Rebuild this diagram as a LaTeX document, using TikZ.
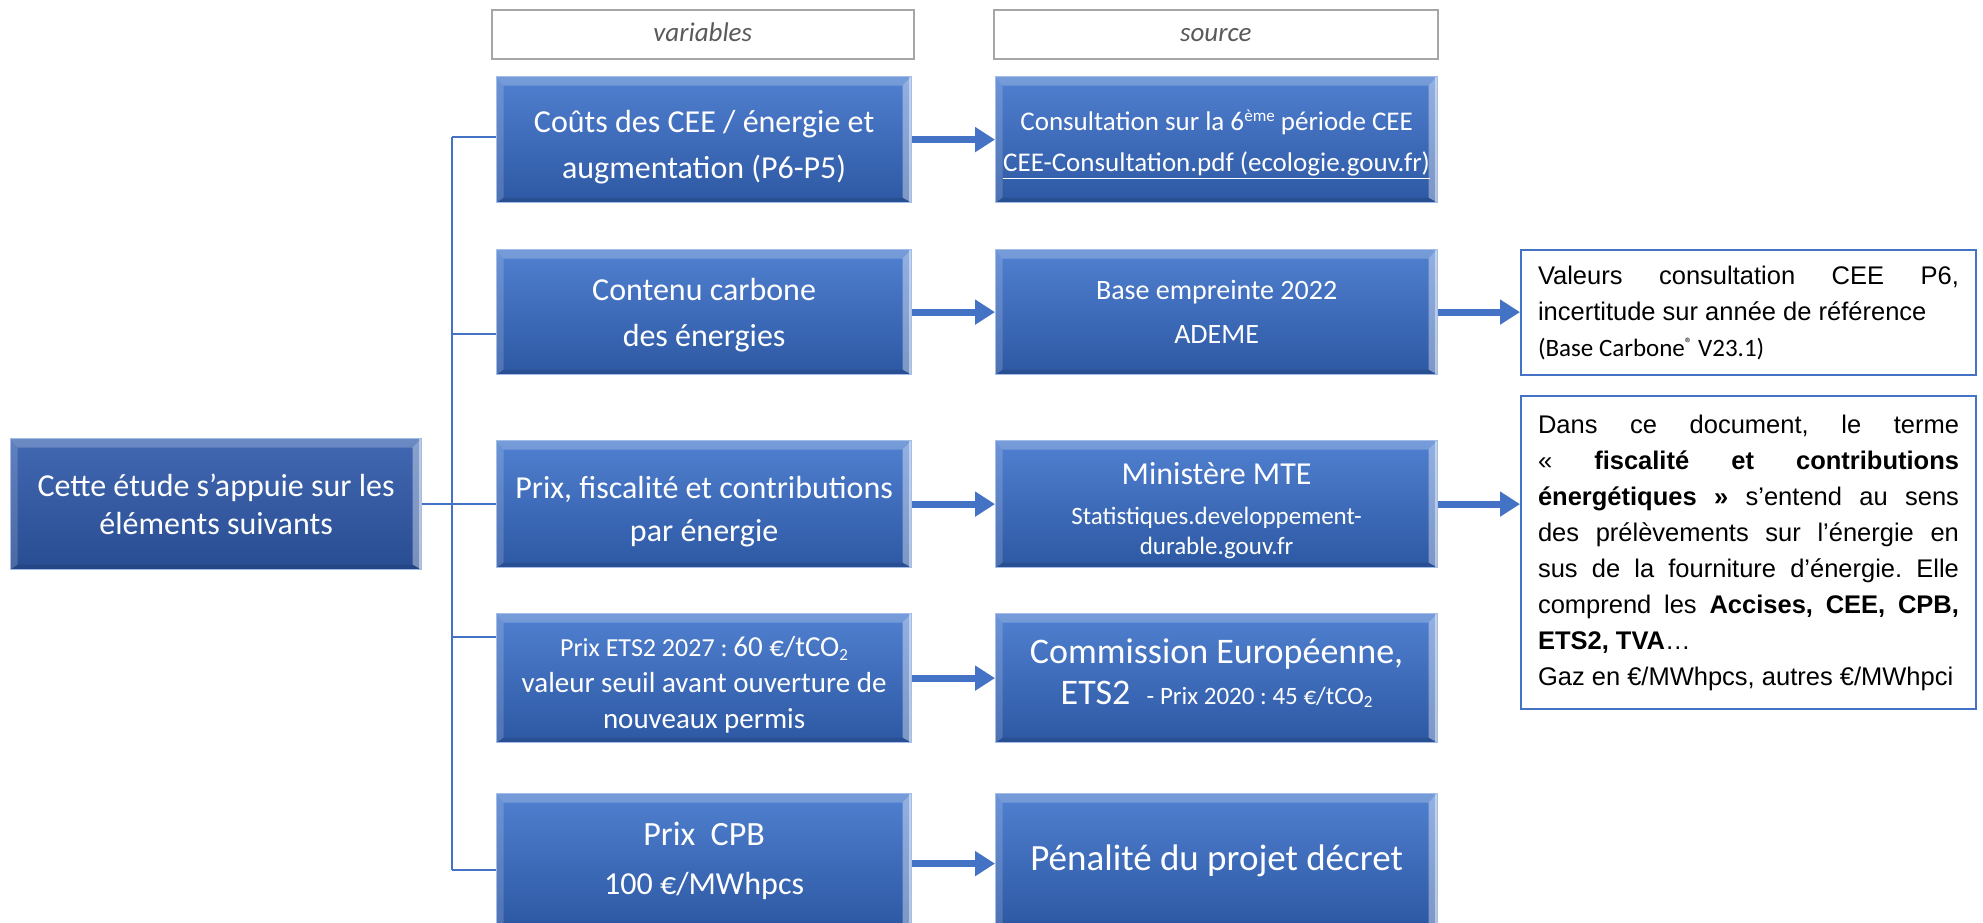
\documentclass[tikz,border=0pt]{standalone}
\usepackage{fontspec}
\setmainfont{Carlito}
\newfontfamily\arialf{Liberation Sans}
\usetikzlibrary{arrows.meta}
\frenchspacing
\definecolor{btop}{HTML}{5080D0}
\definecolor{bmid}{HTML}{3D6BC0}
\definecolor{bbot}{HTML}{2D58A3}
\definecolor{mtop}{HTML}{4268B2}
\definecolor{mmid}{HTML}{3459A2}
\definecolor{mbot}{HTML}{294D92}
\definecolor{bedge}{HTML}{A3BDE6}
\definecolor{lnk}{HTML}{4472C4}
\definecolor{hdr}{HTML}{A6A6A6}
\definecolor{hdrtxt}{HTML}{595959}
\newcommand\fsz[2]{\fontsize{#1}{#2}\selectfont}
\newcommand\subtwo{\raisebox{-0.25ex}{\fsz{17}{17}2}}
\newcommand\tallstrut[1]{\rule{0pt}{#1}}
\tikzset{
  bevel/.style={path picture={
    \fill[white,opacity=.22] (path picture bounding box.north west) -- (path picture bounding box.north east) -- ([xshift=-9pt,yshift=-9pt]path picture bounding box.north east) -- ([xshift=7pt,yshift=-9pt]path picture bounding box.north west) -- cycle;
    \fill[white,opacity=.16] (path picture bounding box.north west) -- ([xshift=7pt,yshift=-9pt]path picture bounding box.north west) -- ([xshift=7pt,yshift=5pt]path picture bounding box.south west) -- (path picture bounding box.south west) -- cycle;
    \fill[black,opacity=.10] (path picture bounding box.south west) -- (path picture bounding box.south east) -- ([xshift=-9pt,yshift=5pt]path picture bounding box.south east) -- ([xshift=7pt,yshift=5pt]path picture bounding box.south west) -- cycle;
    \fill[white,opacity=.38] (path picture bounding box.north east) -- (path picture bounding box.south east) -- ([xshift=-9pt,yshift=5pt]path picture bounding box.south east) -- ([xshift=-9pt,yshift=-9pt]path picture bounding box.north east) -- cycle;
    \fill[white,opacity=.45] ([xshift=-3pt]path picture bounding box.north east) rectangle (path picture bounding box.south east);
  }},
  bluebox/.style={rectangle, inner sep=0pt, text=white, align=center, draw=bedge, line width=1.2pt,
    top color=btop, middle color=bmid, bottom color=bbot, bevel},
  vbox/.style={bluebox, minimum width=415pt, anchor=north west},
  sbox/.style={bluebox, minimum width=442pt, anchor=north west},
  mainbox/.style={rectangle, inner sep=0pt, text=white, align=center, draw=bedge, line width=1.2pt,
    top color=mtop, middle color=mmid, bottom color=mbot, bevel, anchor=north west},
  hdrbox/.style={rectangle, draw=hdr, line width=1.5pt, fill=white, text=hdrtxt,
    font=\fsz{27}{32}\itshape, inner sep=0pt, minimum height=49pt, anchor=north west,
    text height=21pt, text depth=7pt},
  notebox/.style={rectangle, draw=lnk, line width=2pt, fill=white, text=black, inner xsep=17pt,
    inner ysep=0pt, align=left, anchor=north west, minimum width=455pt},
  conn/.style={draw=lnk, line width=1.6pt},
  bigarrow/.style={draw=lnk, line width=7pt, -{Triangle[width=24pt,length=20pt]}},
}
\begin{document}
\begin{tikzpicture}[x=1pt,y=-1pt]
\clip (0,0) rectangle (1983,922);
\fill[white] (0,0) rectangle (1983,922);
% headers
\node[hdrbox, minimum width=422pt] (hv) at (491,9) {variables};
\node[hdrbox, minimum width=444pt] (hs) at (993,9) {source};
% main
\node[mainbox, minimum width=411pt, minimum height=131pt, font=\fsz{32}{38}] (main) at (10,438)
  {Cette étude s’appuie sur les\\éléments suivants};
% variables column
\node[vbox, minimum height=126pt, font=\fsz{32}{46}] (v1) at (496,76)
  {\tallstrut{38pt}Coûts des CEE / énergie et\\augmentation (P6-P5)};
\node[vbox, minimum height=125pt, font=\fsz{32}{46}] (v2) at (496,249)
  {\tallstrut{29pt}Contenu carbone\\des énergies};
\node[vbox, minimum height=127pt, font=\fsz{32}{43}] (v3) at (496,440)
  {\tallstrut{37pt}Prix, fiscalité et contributions\\par énergie};
\node[vbox, minimum height=129pt, font=\fsz{29}{36}] (v4) at (496,613)
  {\tallstrut{34pt}{\fsz{26}{36}Prix ETS2 2027 : }60 €/tCO\subtwo\\valeur seuil avant ouverture de\\nouveaux permis};
\node[vbox, minimum height=134pt, font=\fsz{34}{49}] (v5) at (496,793)
  {Prix~~CPB\\{\fsz{32}{49}100 €/MWhpcs}};
% source column
\node[sbox, minimum height=126pt, font=\fsz{27}{41}] (s1) at (995,76)
  {\tallstrut{30pt}Consultation sur la 6\raisebox{0.75ex}{\fsz{17}{17}ème} période CEE\\\underline{CEE-Consultation.pdf (ecologie.gouv.fr)}};
\node[sbox, minimum height=125pt, font=\fsz{28}{44}] (s2) at (995,249)
  {Base empreinte 2022\\ADEME};
\node[sbox, minimum height=127pt, font=\fsz{25}{30}] (s3) at (995,440)
  {{\fsz{32}{40}\tallstrut{35pt}Ministère MTE}\\[10pt]Statistiques.developpement-\\durable.gouv.fr};
\node[sbox, minimum height=129pt, font=\fsz{36}{41}] (s4) at (995,613)
  {Commission Européenne,\\ETS2~~{\fsz{25}{41}- Prix 2020 : 45 €/tCO\subtwo}\rule[-13pt]{0pt}{13pt}};
\node[sbox, minimum height=134pt, font=\fsz{37}{44}] (s5) at (995,793)
  {Pénalité du projet décret};
% notes
\node[notebox, minimum height=125pt, font=\arialf\fsz{25.5}{36}] (n1) at (1520,249)
  {\makebox[421pt][s]{Valeurs consultation CEE P6,}\\
   incertitude sur année de référence\\
   {\rmfamily\fsz{25}{31}(Base Carbone\raisebox{0.6ex}{\fsz{15}{15}®} V23.1)}};
\node[notebox, minimum height=313pt, font=\arialf\fsz{25.5}{36}] (n2) at (1520,395)
  {\makebox[421pt][s]{Dans ce document, le terme}\\
   \makebox[421pt][s]{« \textbf{fiscalité et contributions}}\\
   \makebox[421pt][s]{\textbf{énergétiques »} s’entend au sens}\\
   \makebox[421pt][s]{des prélèvements sur l’énergie en}\\
   \makebox[421pt][s]{sus de la fourniture d’énergie. Elle}\\
   \makebox[421pt][s]{comprend les \textbf{Accises, CEE, CPB,}}\\
   \textbf{ETS2, TVA}…\\
   Gaz en €/MWhpcs, autres €/MWhpci};
% tree connectors
\coordinate (top) at (452,137);
\coordinate (bot) at (452,870);
\coordinate (b2) at (452,334);
\coordinate (b4) at (452,637);
\draw[conn] (top) -- (bot);
\draw[conn] (top) -- (top -| v1.west);
\draw[conn] (b2) -- (b2 -| v2.west);
\draw[conn] (main.east) -- (v3.west);
\draw[conn] (b4) -- (b4 -| v4.west);
\draw[conn] (bot) -- (bot -| v5.west);
% arrows
\draw[bigarrow] (v1.east) -- (s1.west);
\draw[bigarrow] (v2.east) -- (s2.west);
\draw[bigarrow] (v3.east) -- (s3.west);
\draw[bigarrow] (v4.east) -- (s4.west);
\draw[bigarrow] ([yshift=-3pt]v5.west -| v5.east) -- ([yshift=-3pt]v5.west -| s5.west);
\draw[bigarrow] (s2.east) -- (s2.east -| n1.west);
\draw[bigarrow] (s3.east) -- (s3.east -| n2.west);
\end{tikzpicture}
\end{document}
